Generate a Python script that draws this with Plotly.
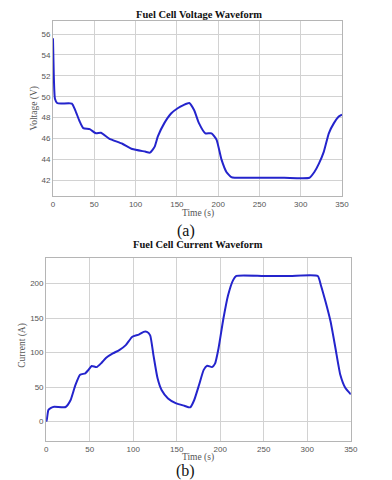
import plotly.graph_objects as go

# fuel cell voltage
t_v = [0, 1, 2.4, 5, 10, 22.9, 27, 32, 36.7, 44.5, 52, 58, 68, 84, 96, 111.5, 117.5,
       123, 127, 135, 143, 151, 158, 165, 171, 176.6, 184.5, 192, 198, 204, 210, 216,
       220, 250, 280, 310.5, 316.5, 322, 328, 334, 340, 346, 350]
volt = [55.6, 52.0, 49.8, 49.4, 49.35, 49.35, 48.7, 47.7, 47.0, 46.9, 46.5, 46.55,
        46.0, 45.5, 45.0, 44.75, 44.65, 45.2, 46.2, 47.5, 48.4, 48.9, 49.2, 49.4, 48.7,
        47.5, 46.5, 46.5, 45.9, 44.0, 42.8, 42.3, 42.25, 42.25, 42.25, 42.25, 42.8, 43.6,
        44.75, 46.5, 47.45, 48.1, 48.3]

# fuel cell current
t_i = [0, 0.7, 2.6, 5.6, 9.3, 22.4, 28, 33.6, 39, 45, 48.6, 52.3, 58, 63.5, 69, 76.6,
       84, 91.5, 99, 106.5, 112, 115.8, 119.5, 123.3, 128, 132.6, 140, 149.4, 158.8,
       165.5, 170, 175.6, 181, 185, 190.5, 194, 198, 203.6, 209, 214.8, 218.5, 250, 280,
       312, 315.6, 321, 326.8, 332.4, 338, 343.6, 350]
curr = [0, 2.4, 17, 20, 21.7, 21.2, 31, 53, 68, 70, 75, 80.5, 79, 85, 92.5, 98.8, 103.6,
        110.8, 123, 126, 130, 130, 125, 96, 62.7, 45.8, 33.7, 26.5, 23, 20.7, 31, 53, 75,
        81, 79, 84, 106, 149, 183, 205, 211, 211, 211, 211, 197.6, 173.5, 144.6, 106, 67.5,
        49, 39.5]

# page body adds an 8px margin, so shift everything by it
OFF = 8
W, H = 392 - OFF, 480 - OFF
blue = "#2424cc"
grid = "#d2d2d2"
tickfont = dict(family="Liberation Sans", size=8, color="#555555")
labfont = dict(family="Liberation Serif", size=9.5, color="#555555")

def px(x):
    return (x - OFF) / W

def py_(y):
    return 1 - (y - OFF) / H

fig = go.Figure()
fig.add_trace(go.Scatter(x=t_v, y=volt, mode="lines", line=dict(color=blue, width=2, shape="spline", smoothing=0.5),
                         xaxis="x", yaxis="y", showlegend=False))
fig.add_trace(go.Scatter(x=t_i, y=curr, mode="lines", line=dict(color=blue, width=2, shape="spline", smoothing=0.5),
                         xaxis="x2", yaxis="y2", showlegend=False))

ax = dict(showgrid=True, gridcolor=grid, gridwidth=1, zeroline=False, showline=True,
          linecolor="#b5b5b5", linewidth=1, mirror=True, ticks="", tickfont=tickfont)

fig.update_layout(
    width=W, height=H,
    margin=dict(l=0, r=0, t=0, b=0),
    paper_bgcolor="white", plot_bgcolor="white",
    xaxis=dict(ax, domain=[px(52), px(348)], range=[0, 350], dtick=50, anchor="y"),
    yaxis=dict(ax, domain=[py_(196), py_(21)], range=[40.5, 57.25], tickvals=[42, 44, 46, 48, 50, 52, 54, 56], anchor="x"),
    xaxis2=dict(ax, domain=[px(45), px(357)], range=[0, 350], dtick=50, anchor="y2"),
    yaxis2=dict(ax, domain=[py_(441), py_(258)], range=[-28, 237], tickvals=[0, 50, 100, 150, 200], anchor="x2"),
)

def note(text, x, y, font, angle=0, yanchor="middle"):
    fig.add_annotation(text=text, x=px(x), y=py_(y), xref="paper", yref="paper",
                       showarrow=False, font=font, textangle=angle, xanchor="center", yanchor=yanchor)

titlefont = dict(family="Liberation Serif", size=10.5, color="#111111")
capfont = dict(family="Liberation Serif", size=16, color="#111111")
note("<b>Fuel Cell Voltage Waveform</b>", 202, 7, titlefont, yanchor="top")
note("Time (s)", 201, 213, labfont)
note("Voltage (V)", 33, 108, labfont, -90)
note("(a)", 188, 231, capfont)
note("<b>Fuel Cell Current Waveform</b>", 201, 244, titlefont)
note("Time (s)", 201, 457, labfont)
note("Current (A)", 20, 345, labfont, -90)
note("(b)", 188, 471, capfont)

fig.write_html("out.html")
